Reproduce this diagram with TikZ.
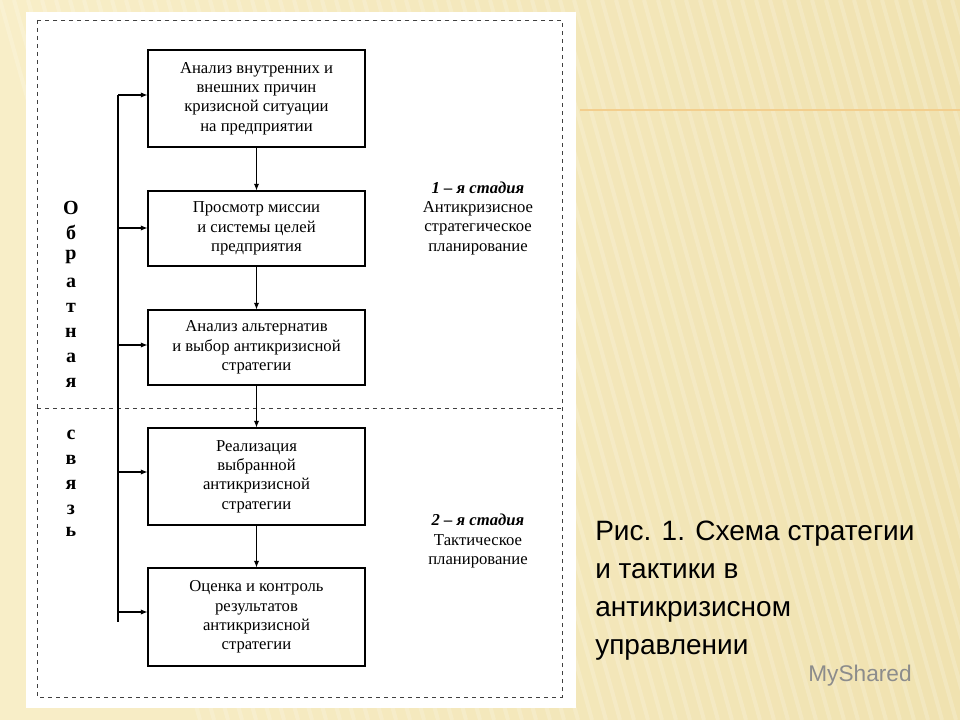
\documentclass[tikz,border=0pt]{standalone}
\usepackage{fontspec}
\setmainfont{Liberation Serif}
\newfontfamily\capfont{Liberation Sans}
\usetikzlibrary{arrows.meta}
\begin{document}
\begin{tikzpicture}[x=0.75pt,y=-0.75pt,
  stepbox/.style={draw,line width=0.8pt,minimum width=217*0.75pt,align=center,font=\fontsize{12.5}{14.5}\selectfont,inner sep=0pt},
  fb/.style={line width=0.8pt,-{Latex[length=5pt,width=4pt]}},
  letter/.style={font=\bfseries\fontsize{15}{17}\selectfont},
  stage/.style={align=center,font=\fontsize{12.5}{14.5}\selectfont}]
\definecolor{bg}{RGB}{240,226,176}
\definecolor{bgl}{RGB}{248,238,200}
\useasboundingbox (0,0) rectangle (960,720);
\shade[left color=bgl,right color=bg] (0,0) rectangle (960,720);
\foreach \i in {0,14,...,960} {\draw[white,opacity=0.18,line width=3pt] (\i,0) -- (\i+200,720);}
\draw[color=bg!80!orange,line width=0.8pt] (580,110) -- (960,110);
\fill[white] (26,12) rectangle (576,708);
\draw[dashed,line width=0.6pt,black!75] (37,20) rectangle (562,697);
\draw[dashed,line width=0.6pt,black!75] (37,408) -- (562,408);
\node[stepbox,minimum height=97*0.75pt] (b1) at (256.5,98.5) {Анализ внутренних и\\внешних причин\\кризисной ситуации\\на предприятии};
\node[stepbox,minimum height=75*0.75pt] (b2) at (256.5,228.5) {Просмотр миссии\\и системы целей\\предприятия};
\node[stepbox,minimum height=75*0.75pt] (b3) at (256.5,347.5) {Анализ альтернатив\\и выбор антикризисной\\стратегии};
\node[stepbox,minimum height=97*0.75pt] (b4) at (256.5,476.5) {Реализация\\выбранной\\антикризисной\\стратегии};
\node[stepbox,minimum height=98*0.75pt] (b5) at (256.5,617) {Оценка и контроль\\результатов\\антикризисной\\стратегии};
\foreach \a/\b in {b1/b2,b2/b3,b3/b4,b4/b5} \draw[fb] (\a) -- (\b);
\coordinate (top) at (118,95);
\coordinate (bot) at (118,622);
\draw[line width=0.8pt] (top) -- (bot);
\foreach \n/\y in {b1/95,b2/228,b3/345,b4/472,b5/612} {
  \coordinate (s\n) at (118,\y);
  \draw[fb] (s\n) -- (s\n -| \n.west);}
\foreach \t/\y [count=\k] in {О/208,б/232,р/257,а/283,т/308,н/333,а/358,я/383,с/435,в/460,я/485,з/510,ь/532}
  \node[letter] (l\k) at (71,\y) {\t};
\node[stage] (st1) at (478,218) {\textbf{\textit{1 – я стадия}}\\Антикризисное\\стратегическое\\планирование};
\node[stage] (st2) at (478,541) {\textbf{\textit{2 – я стадия}}\\Тактическое\\планирование};
\node[anchor=north west,align=left,font=\capfont\fontsize{21}{28.5}\selectfont,inner sep=0pt] (cap) at (595,521) {Рис. 1. Схема стратегии\\и тактики в\\антикризисном\\управлении};
\node[font=\capfont\fontsize{17}{20}\selectfont,text=black!45] (logo) at (860,676) {MyShared};
\end{tikzpicture}
\end{document}
